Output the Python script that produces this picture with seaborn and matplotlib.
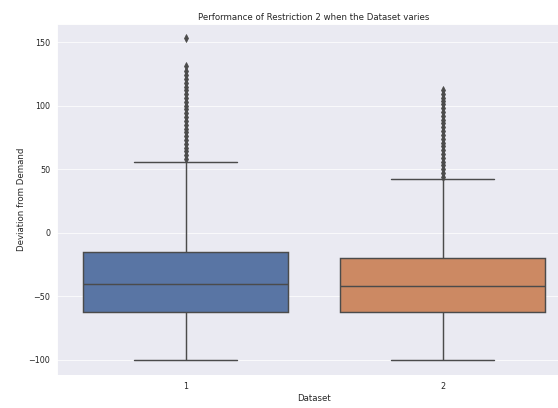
import numpy as np
import pandas as pd
import matplotlib
matplotlib.use("Agg")
import matplotlib.pyplot as plt
import seaborn as sns

# Dataset labels
datasets = ["1", "2"]

# Dataset 1: core values (read from box: min, Q1, median, Q3) with counts,
# values between Q3 and upper whisker, and outliers
d1_core_values = [-100, -62.5, -40, -14.8]
d1_core_counts = [30, 30, 30, 1]
d1_upper = [5, 25, 42, 56]
d1_outliers = [58, 61, 64, 67, 70, 73, 76, 79, 82, 85, 88, 91, 94, 97, 100,
               103, 106, 109, 112, 115, 118, 121, 124, 127, 131, 153]

# Dataset 2
d2_core_values = [-100, -62, -42, -20]
d2_core_counts = [28, 28, 28, 1]
d2_upper = [0, 20, 35, 42]
d2_outliers = [44, 47, 50, 53, 56, 59, 62, 65, 68, 71, 74, 77, 80, 83, 86,
               89, 92, 95, 98, 101, 104, 106, 109, 112]

d1 = list(np.repeat(d1_core_values, d1_core_counts)) + d1_upper + d1_outliers
d2 = list(np.repeat(d2_core_values, d2_core_counts)) + d2_upper + d2_outliers

df = pd.DataFrame({
    "Dataset": [datasets[0]] * len(d1) + [datasets[1]] * len(d2),
    "Deviation from Demand": d1 + d2,
})

sns.set_theme(style="darkgrid")

dpi = 52
fig = plt.figure(figsize=(558 / dpi, 408 / dpi), dpi=dpi)
ax = fig.add_axes([57 / 558, 1 - 375 / 408, 514 / 558, 351 / 408])

line_c = "#4b4b4b"
sns.boxplot(data=df, x="Dataset", y="Deviation from Demand", hue="Dataset",
            palette="deep", legend=False, ax=ax, linecolor=line_c,
            linewidth=2, width=0.8,
            flierprops=dict(marker="d", markersize=7,
                            markerfacecolor=line_c, markeredgecolor=line_c))

ax.set_ylim(-111.8, 164.2)
ax.set_title("Performance of Restriction 2 when the Dataset varies")
ax.set_xlabel("Dataset")
ax.set_ylabel("Deviation from Demand")

fig.savefig("out.png", dpi=dpi)
